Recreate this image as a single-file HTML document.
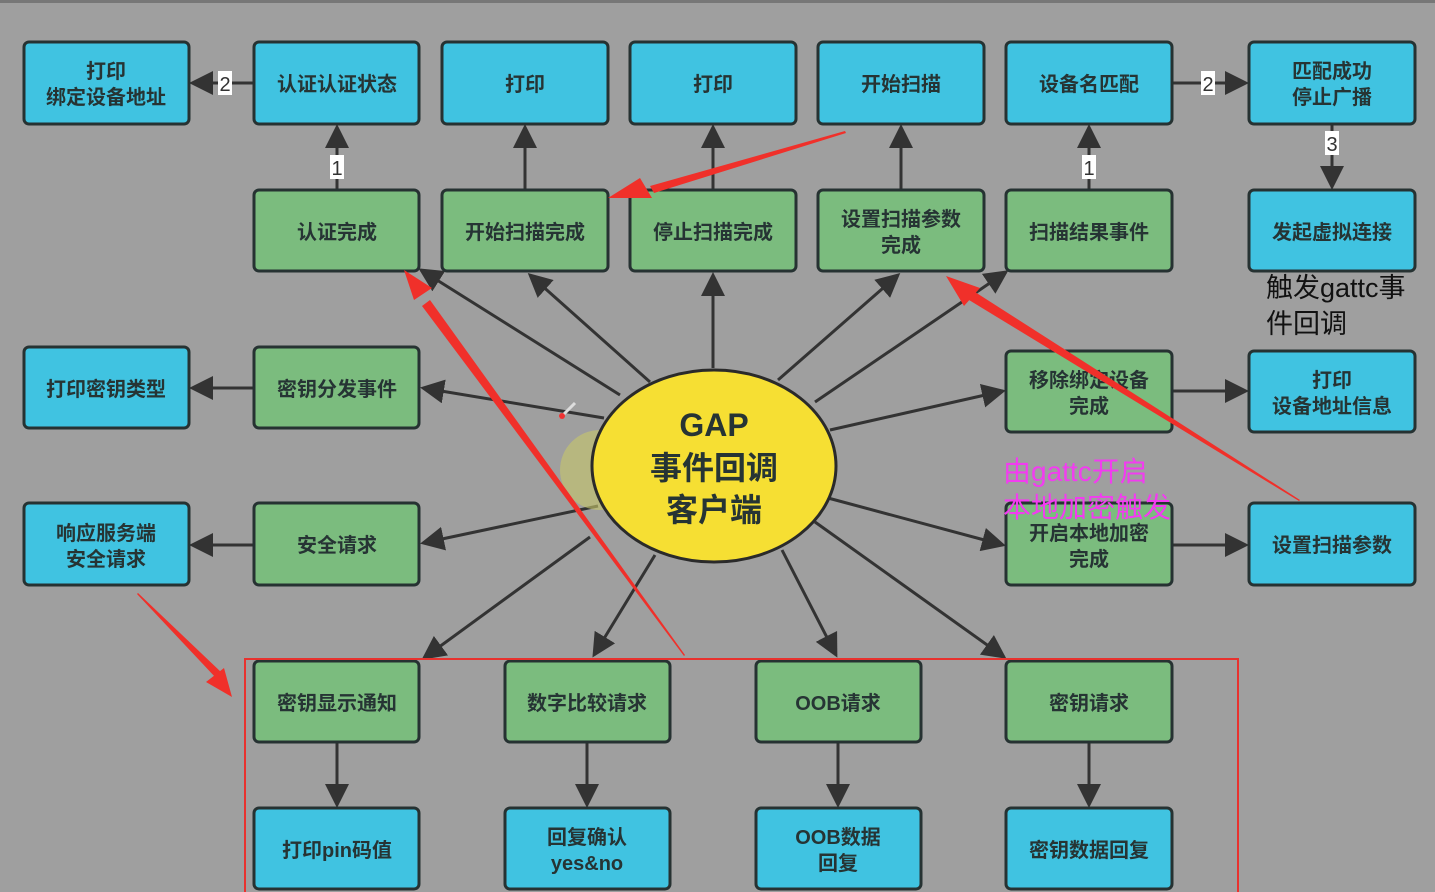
<!DOCTYPE html>
<html><head><meta charset="utf-8"><style>
html,body{margin:0;padding:0;background:#9f9f9f;}
svg{display:block;}
text{font-family:"Liberation Sans","Noto Sans CJK SC",sans-serif;}
.t{font-size:20px;font-weight:bold;fill:#263434;text-anchor:middle;}
.b{fill:#40c3e1;stroke:#263232;stroke-width:3;}
.g{fill:#7bbc7e;stroke:#263232;stroke-width:3;}
.l{stroke:#333;stroke-width:3;fill:none;marker-end:url(#ah);}
.lab{font-size:20px;fill:#333;text-anchor:middle;}
</style></head><body>
<svg width="1435" height="892" viewBox="0 0 1435 892">
<defs>
<marker id="ah" markerWidth="8" markerHeight="8" refX="7" refY="4" orient="auto" markerUnits="strokeWidth">
<path d="M0,0 L8,4 L0,8 z" fill="#333"/></marker>
</defs>
<rect x="0" y="0" width="1435" height="892" fill="#9f9f9f"/>
<rect x="0" y="0" width="1435" height="3" fill="#777"/>

<!-- connectors -->
<line class="l" x1="254" y1="83" x2="192" y2="83"/>
<line class="l" x1="1172" y1="83" x2="1246" y2="83"/>
<line class="l" x1="337" y1="190" x2="337" y2="127"/>
<line class="l" x1="525" y1="190" x2="525" y2="127"/>
<line class="l" x1="713" y1="190" x2="713" y2="127"/>
<line class="l" x1="901" y1="190" x2="901" y2="127"/>
<line class="l" x1="1089" y1="190" x2="1089" y2="127"/>
<line class="l" x1="1332" y1="124" x2="1332" y2="187"/>
<line class="l" x1="254" y1="388" x2="192" y2="388"/>
<line class="l" x1="1172" y1="391" x2="1246" y2="391"/>
<line class="l" x1="254" y1="545" x2="192" y2="545"/>
<line class="l" x1="1172" y1="545" x2="1246" y2="545"/>
<line class="l" x1="337" y1="742" x2="337" y2="805"/>
<line class="l" x1="587" y1="742" x2="587" y2="805"/>
<line class="l" x1="838" y1="742" x2="838" y2="805"/>
<line class="l" x1="1089" y1="742" x2="1089" y2="805"/>

<line class="l" x1="620" y1="395" x2="421" y2="270"/>
<line class="l" x1="650" y1="382" x2="530" y2="275"/>
<line class="l" x1="713" y1="368" x2="713" y2="275"/>
<line class="l" x1="778" y1="380" x2="898" y2="275"/>
<line class="l" x1="815" y1="402" x2="1006" y2="272"/>
<line class="l" x1="604" y1="418" x2="423" y2="388"/>
<line class="l" x1="830" y1="430" x2="1003" y2="391"/>
<line class="l" x1="598" y1="506" x2="423" y2="543"/>
<line class="l" x1="828" y1="498" x2="1003" y2="545"/>
<line class="l" x1="590" y1="537" x2="424" y2="658"/>
<line class="l" x1="655" y1="555" x2="594" y2="655"/>
<line class="l" x1="782" y1="550" x2="836" y2="655"/>
<line class="l" x1="815" y1="522" x2="1004" y2="657"/>

<!-- labels on connectors -->
<rect x="218" y="71" width="14" height="24" fill="#fff"/><text class="lab" x="225" y="91">2</text>
<rect x="1201" y="71" width="14" height="24" fill="#fff"/><text class="lab" x="1208" y="91">2</text>
<rect x="330" y="155" width="14" height="24" fill="#fff"/><text class="lab" x="337" y="175">1</text>
<rect x="1082" y="155" width="14" height="24" fill="#fff"/><text class="lab" x="1089" y="175">1</text>
<rect x="1325" y="131" width="14" height="24" fill="#fff"/><text class="lab" x="1332" y="151">3</text>

<!-- row1 -->
<rect class="b" x="24" y="42" width="165" height="82" rx="5"/><text class="t" x="106" y="78">打印</text><text class="t" x="106" y="104">绑定设备地址</text>
<rect class="b" x="254" y="42" width="165" height="82" rx="5"/><text class="t" x="337" y="91">认证认证状态</text>
<rect class="b" x="442" y="42" width="166" height="82" rx="5"/><text class="t" x="525" y="91">打印</text>
<rect class="b" x="630" y="42" width="166" height="82" rx="5"/><text class="t" x="713" y="91">打印</text>
<rect class="b" x="818" y="42" width="166" height="82" rx="5"/><text class="t" x="901" y="91">开始扫描</text>
<rect class="b" x="1006" y="42" width="166" height="82" rx="5"/><text class="t" x="1089" y="91">设备名匹配</text>
<rect class="b" x="1249" y="42" width="166" height="82" rx="5"/><text class="t" x="1332" y="78">匹配成功</text><text class="t" x="1332" y="104">停止广播</text>
<!-- row2 -->
<rect class="g" x="254" y="190" width="165" height="81" rx="5"/><text class="t" x="337" y="239">认证完成</text>
<rect class="g" x="442" y="190" width="166" height="81" rx="5"/><text class="t" x="525" y="239">开始扫描完成</text>
<rect class="g" x="630" y="190" width="166" height="81" rx="5"/><text class="t" x="713" y="239">停止扫描完成</text>
<rect class="g" x="818" y="190" width="166" height="81" rx="5"/><text class="t" x="901" y="226">设置扫描参数</text><text class="t" x="901" y="252">完成</text>
<rect class="g" x="1006" y="190" width="166" height="81" rx="5"/><text class="t" x="1089" y="239">扫描结果事件</text>
<rect class="b" x="1249" y="190" width="166" height="81" rx="5"/><text class="t" x="1332" y="239">发起虚拟连接</text>
<text x="1266" y="297" font-size="27" fill="#111">触发gattc事</text>
<text x="1266" y="333" font-size="27" fill="#111">件回调</text>
<!-- row3 -->
<rect class="b" x="24" y="347" width="165" height="81" rx="5"/><text class="t" x="106" y="396">打印密钥类型</text>
<rect class="g" x="254" y="347" width="165" height="81" rx="5"/><text class="t" x="337" y="396">密钥分发事件</text>
<rect class="g" x="1006" y="351" width="166" height="81" rx="5"/><text class="t" x="1089" y="387">移除绑定设备</text><text class="t" x="1089" y="413">完成</text>
<rect class="b" x="1249" y="351" width="166" height="81" rx="5"/><text class="t" x="1332" y="387">打印</text><text class="t" x="1332" y="413">设备地址信息</text>
<!-- row4 -->
<rect class="b" x="24" y="503" width="165" height="82" rx="5"/><text class="t" x="106" y="540">响应服务端</text><text class="t" x="106" y="566">安全请求</text>
<rect class="g" x="254" y="503" width="165" height="82" rx="5"/><text class="t" x="337" y="552">安全请求</text>
<rect class="g" x="1006" y="503" width="166" height="82" rx="5"/><text class="t" x="1089" y="540">开启本地加密</text><text class="t" x="1089" y="566">完成</text>
<rect class="b" x="1249" y="503" width="166" height="82" rx="5"/><text class="t" x="1332" y="552">设置扫描参数</text>
<text x="1003" y="481" font-size="28" fill="#f23cf0">由gattc开启</text>
<text x="1003" y="517" font-size="28" fill="#f23cf0">本地加密触发</text>
<!-- row5 -->
<rect class="g" x="254" y="661" width="165" height="81" rx="5"/><text class="t" x="337" y="710">密钥显示通知</text>
<rect class="g" x="505" y="661" width="165" height="81" rx="5"/><text class="t" x="587" y="710">数字比较请求</text>
<rect class="g" x="756" y="661" width="165" height="81" rx="5"/><text class="t" x="838" y="710">OOB请求</text>
<rect class="g" x="1006" y="661" width="166" height="81" rx="5"/><text class="t" x="1089" y="710">密钥请求</text>
<!-- row6 -->
<rect class="b" x="254" y="808" width="165" height="81" rx="5"/><text class="t" x="337" y="857">打印pin码值</text>
<rect class="b" x="505" y="808" width="165" height="81" rx="5"/><text class="t" x="587" y="844">回复确认</text><text class="t" x="587" y="870">yes&amp;no</text>
<rect class="b" x="756" y="808" width="165" height="81" rx="5"/><text class="t" x="838" y="844">OOB数据</text><text class="t" x="838" y="870">回复</text>
<rect class="b" x="1006" y="808" width="166" height="81" rx="5"/><text class="t" x="1089" y="857">密钥数据回复</text>

<!-- center ellipse -->
<circle cx="600" cy="470" r="40" fill="#c8c86a" opacity="0.6"/>
<ellipse cx="714" cy="466" rx="122" ry="96" fill="#f6df33" stroke="#2a2a2a" stroke-width="3"/>
<text class="t" x="714" y="436" font-size="32" style="font-size:32px">GAP</text>
<text class="t" x="714" y="479" style="font-size:32px">事件回调</text>
<text class="t" x="714" y="521" style="font-size:32px">客户端</text>

<!-- red annotations -->
<rect x="245" y="659" width="993" height="240" fill="none" stroke="#e8322e" stroke-width="2"/>
<polygon points="845,131 650,186 654,193 846,133" fill="#f0302a"/>
<polygon points="608,198 640,178 652,198" fill="#f0302a"/>
<polygon points="685,655 430,300 422,306 684,656" fill="#f0302a"/>
<polygon points="404,270 414,300 432,288" fill="#f0302a"/>
<polygon points="1300,500 975,292 969,300 1299,501" fill="#f0302a"/>
<polygon points="946,276 964,306 980,288" fill="#f0302a"/>
<polygon points="137,594 216,678 222,673 138,593" fill="#f0302a"/>
<polygon points="232,697 206,682 224,668" fill="#f0302a"/>
<line x1="560" y1="418" x2="575" y2="403" stroke="#ddd" stroke-width="3"/>
<circle cx="562" cy="416" r="3" fill="#e33"/>
</svg>
</body></html>
